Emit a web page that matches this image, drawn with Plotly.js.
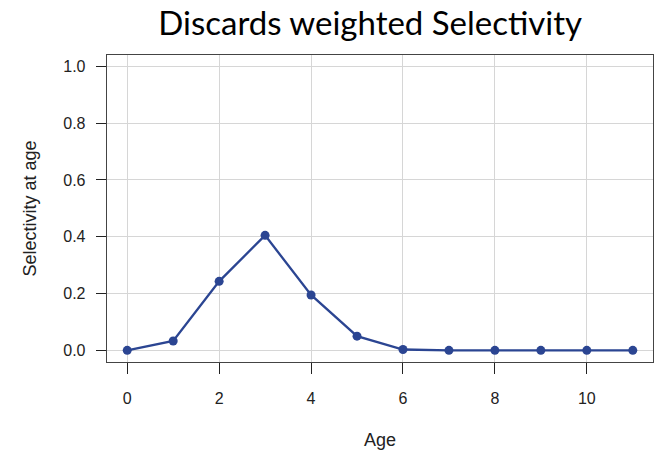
<!DOCTYPE html>
<html>
<head>
<meta charset="utf-8">
<script src="https://cdn.plot.ly/plotly-3.0.1.min.js"></script>
<style>html,body{margin:0;padding:0;background:#fff;}#chart{width:667px;height:455px;}</style>
</head>
<body>
<div id="chart"></div>
<script>
const ages = [0, 1, 2, 3, 4, 5, 6, 7, 8, 9, 10, 11];
const selectivity = [0.0, 0.033, 0.243, 0.405, 0.195, 0.050, 0.003, 0.0, 0.0, 0.0, 0.0, 0.0];
const xTicks = [0, 2, 4, 6, 8, 10];
const yTicks = [0.0, 0.2, 0.4, 0.6, 0.8, 1.0];
const yTickLabels = ["0.0", "0.2", "0.4", "0.6", "0.8", "1.0"];

const trace = {
  x: ages, y: selectivity, type: 'scatter', mode: 'lines+markers',
  line: {color: '#2b4592', width: 2.3},
  marker: {color: '#2b4592', size: 9},
  hoverinfo: 'skip'
};

const fnt = '"Liberation Sans", Arial, sans-serif';
const layout = {
  width: 667, height: 455,
  margin: {l: 107, r: 14, t: 55, b: 93},
  paper_bgcolor: '#fff', plot_bgcolor: '#fff',
  showlegend: false,
  title: {text: 'Discards weighted Selectivity', x: 0.555, xanchor: 'center', yref: 'container', y: 0.948, yanchor: 'middle',
          font: {family: 'Lato, "Open Sans", sans-serif', size: 33, color: '#000'}},
  xaxis: {
    range: [-0.44, 11.44], tickvals: xTicks, ticktext: xTicks.map(String),
    showgrid: true, gridcolor: '#d6d6d6', gridwidth: 1, zeroline: false,
    showline: true, linecolor: '#444', linewidth: 1.3, mirror: true,
    ticks: 'outside', ticklen: 11, tickcolor: '#222', tickwidth: 1,
    ticklabelstandoff: 10,
    tickfont: {family: fnt, size: 16, color: '#222'},
    title: {text: 'Age', standoff: 28, font: {family: fnt, size: 18, color: '#222'}}
  },
  yaxis: {
    range: [-0.041, 1.04], tickvals: yTicks, ticktext: yTickLabels,
    showgrid: true, gridcolor: '#d6d6d6', gridwidth: 1, zeroline: false,
    showline: true, linecolor: '#444', linewidth: 1.3, mirror: true,
    ticks: 'outside', ticklen: 10, tickcolor: '#222', tickwidth: 1,
    ticklabelstandoff: 7,
    tickfont: {family: fnt, size: 16, color: '#222'},
    title: {text: 'Selectivity at age', standoff: 22, font: {family: fnt, size: 18, color: '#222'}}
  }
};

Plotly.newPlot('chart', [trace], layout, {displayModeBar: false, staticPlot: true});
</script>
</body>
</html>
